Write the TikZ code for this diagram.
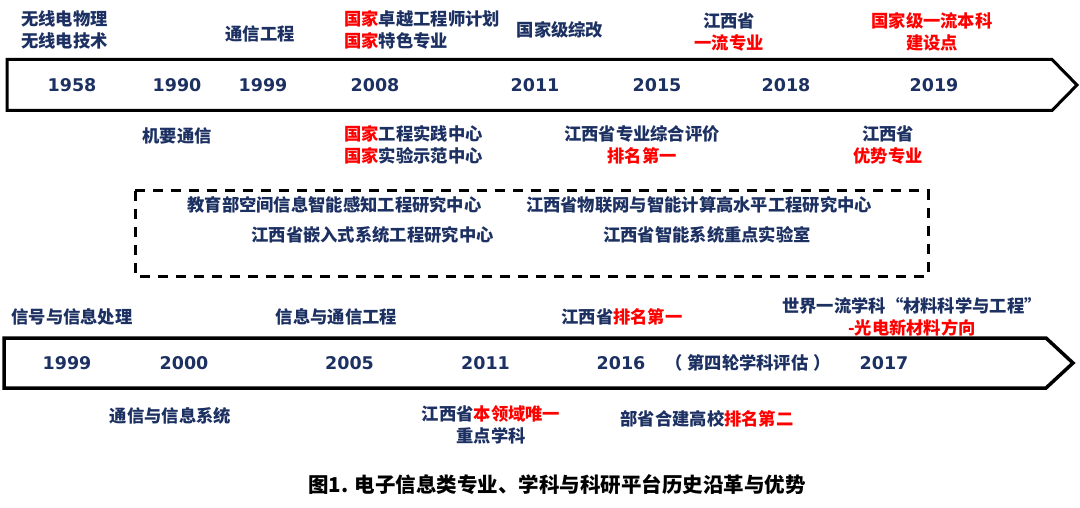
\documentclass[tikz,border=0pt]{standalone}
\usepackage{fontspec}
\newfontfamily\cjk{Noto Sans CJK SC}
\newfontfamily\yrfam{DejaVu Sans}
\definecolor{navy}{RGB}{28,48,98}
\newcommand{\hot}[1]{\textcolor{red}{#1}}

\begin{document}
\begin{tikzpicture}[x=1pt,y=-1pt,
    yr/.style={font=\fontsize{17.5}{20}\selectfont\yrfam\bfseries,text=navy,inner sep=0pt},
    lbl/.style={font=\fontsize{17.3}{21.5}\selectfont\cjk\bfseries,text=navy,align=center,inner sep=0pt},
    band/.style={line width=3pt,draw=black},
    platform/.style={line width=3pt,dash pattern=on 10pt off 8pt}]
    \useasboundingbox (0,0) rectangle (1080,508);

    % Major timeline (arrow band)
    \draw[band] (7,59.5) -- (1052,59.5) -- (1077,85) -- (1052,110.5) -- (7,110.5) -- cycle;
    \node[yr] (m1958) at (72,85) {1958};
    \node[yr] (m1990) at (177,85) {1990};
    \node[yr] (m1999) at (263,85) {1999};
    \node[yr] (m2008) at (375,85) {2008};
    \node[yr] (m2011) at (535,85) {2011};
    \node[yr] (m2015) at (657,85) {2015};
    \node[yr] (m2018) at (786,85) {2018};
    \node[yr] (m2019) at (934,85) {2019};

    % above the band
    \node[lbl] (radio) at (64.5,30) {无线电物理\\无线电技术};
    \node[lbl] (comm) at (260,34) {通信工程};
    \node[lbl,anchor=west,align=left] (excel) at (344,30) {\hot{国家}卓越工程师计划\\\hot{国家}特色专业};
    \node[lbl] (reform) at (560,30) {国家级综改};
    \node[lbl] (prov) at (729,32) {江西省\\\hot{一流专业}};
    \node[lbl] (natl) at (932,32) {\hot{国家级一流本科}\\\hot{建设点}};

    % below the band
    \node[lbl] (secure) at (177,136) {机要通信};
    \node[lbl,anchor=west,align=left] (centers) at (344,145) {\hot{国家}工程实践中心\\\hot{国家}实验示范中心};
    \node[lbl] (rank) at (642,145) {江西省专业综合评价\\\hot{排名第一}};
    \node[lbl] (adv) at (888,145) {江西省\\\hot{优势专业}};

    % Research platforms
    \draw[platform] (135,191) rectangle (928,276);
    \node[lbl] (moe) at (334.5,205) {教育部空间信息智能感知工程研究中心};
    \node[lbl] (iot) at (699,205) {江西省物联网与智能计算高水平工程研究中心};
    \node[lbl] (embed) at (372.5,235) {江西省嵌入式系统工程研究中心};
    \node[lbl] (lab) at (707,235) {江西省智能系统重点实验室};

    % Discipline timeline (arrow band)
    \draw[band,line width=3.5pt] (4,338) -- (1046,338) -- (1073,363) -- (1046,388) -- (4,388) -- cycle;
    \node[yr] (d1999) at (67,363) {1999};
    \node[yr] (d2000) at (184,363) {2000};
    \node[yr] (d2005) at (349.5,363) {2005};
    \node[yr] (d2011) at (485.5,363) {2011};
    \node[yr] (d2016) at (621,363) {2016};
    \node[lbl] (eval) at (748,363) {（\hspace{5pt}第四轮学科评估\hspace{5pt}）};
    \node[yr] (d2017) at (884,363) {2017};

    % above the band
    \node[lbl] (sig) at (72,317) {信号与信息处理};
    \node[lbl] (ice) at (336.5,317) {信息与通信工程};
    \node[lbl] (first) at (622,317) {江西省\hot{排名第一}};
    \node[lbl] (world) at (912,317) {世界一流学科“材料科学与工程”\\\hot{-光电新材料方向}};

    % below the band
    \node[lbl] (cis) at (170.5,416) {通信与信息系统};
    \node[lbl] (key) at (491,425) {江西省\hot{本领域唯一}\\重点学科};
    \node[lbl] (second) at (707,419) {部省合建高校\hot{排名第二}};

    % caption
    \node[lbl,text=black,font=\fontsize{20.5}{24}\selectfont\cjk\bfseries] (caption) at (557,485) {图1. 电子信息类专业、学科与科研平台历史沿革与优势};
\end{tikzpicture}
\end{document}
